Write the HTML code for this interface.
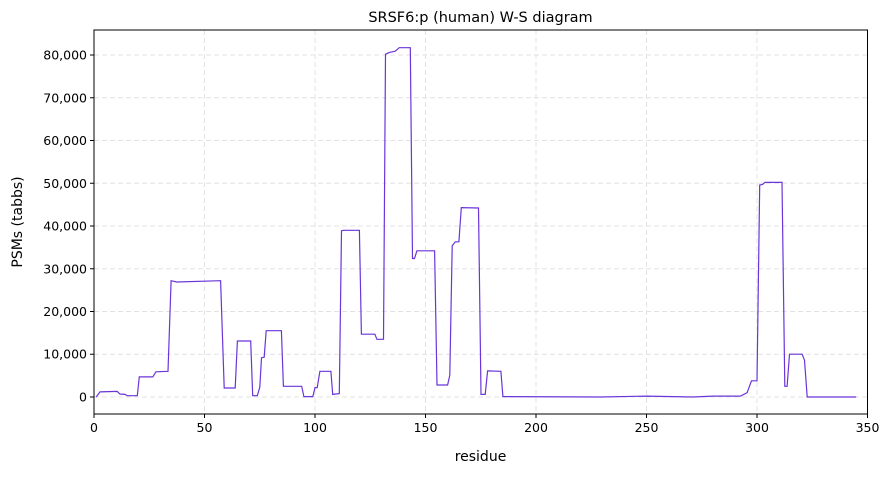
<!DOCTYPE html>
<html><head><meta charset="utf-8">
<style>
body{margin:0;background:#fff;font-family:"Liberation Sans","DejaVu Sans",sans-serif;}
svg text{font-family:"DejaVu Sans","Liberation Sans",sans-serif;fill:#000;}
</style></head>
<body>
<svg id="chart" width="891" height="474" xmlns="http://www.w3.org/2000/svg">
<text x="480.5" y="22" font-size="14.5" text-anchor="middle">SRSF6:p (human) W-S diagram</text>
<g id="grid"></g>
<g id="series"></g>
<rect x="94" y="30" width="773.5" height="384" fill="none" stroke="#000" stroke-width="1"/>
<g id="xticks"></g>
<g id="yticks"></g>
<text x="480.5" y="461" font-size="14" text-anchor="middle">residue</text>
<text transform="translate(22,222) rotate(-90)" font-size="14" text-anchor="middle">PSMs (tabbs)</text>
</svg>
<script>
const residues=[1,2.7,10.5,11.7,14,15,19.6,20.5,26.6,28,33.5,34.9,37.4,57.3,58.9,63.9,64.9,70.9,71.8,73.9,75,75.8,77,77.9,84.8,85.7,94,95,99,100,101,102.2,107.2,108,111,112,113,120.1,121,127.1,128,131,131.9,133.7,136.3,138.1,143.1,144.1,145,146.1,154.1,155.2,160,161,162.1,163.5,165.1,166.2,174,175.1,177,178.1,184.1,185,229,250,271,280,292.5,295.5,297.5,300,301.2,302.5,303.6,311.3,312.6,313.6,314.7,320.4,321.5,322.7,344.9];
const psms=[0,1200,1300,700,600,300,300,4700,4700,5900,6000,27200,26900,27200,2100,2100,13100,13100,300,300,2300,9200,9300,15500,15500,2500,2500,100,100,2200,2200,6000,6000,600,800,38900,39000,39000,14700,14700,13500,13500,80200,80600,80900,81700,81700,32400,32400,34200,34200,2800,2800,5100,35400,36300,36300,44300,44200,600,600,6100,6000,100,0,200,0,200,200,1000,3800,3800,49600,49700,50200,50200,2500,2500,10000,10000,8600,0,0];
const xTicks=[0,50,100,150,200,250,300,350];
const yTicks=[0,10000,20000,30000,40000,50000,60000,70000,80000];
const X0=94,X1=867.5,XMIN=0,XMAX=350;
const Y0=414,Y1=30,YMIN=-3977,YMAX=85850;
function sx(v){return X0+(v-XMIN)/(XMAX-XMIN)*(X1-X0);}
function sy(v){return Y0-(v-YMIN)/(YMAX-YMIN)*(Y0-Y1);}
const NS="http://www.w3.org/2000/svg";
const grid=document.getElementById('grid'),xg=document.getElementById('xticks'),yg=document.getElementById('yticks');
xTicks.forEach(t=>{
  const x=sx(t);
  const gl=document.createElementNS(NS,'line');
  
  
  gl.setAttribute('x1',x);gl.setAttribute('x2',x);gl.setAttribute('y1',Y1);gl.setAttribute('y2',Y0);
  gl.setAttribute('stroke','#e3e3e3');gl.setAttribute('stroke-dasharray','5,3');
  grid.appendChild(gl);
  const tk=document.createElementNS(NS,'line');
  
  
  tk.setAttribute('x1',x);tk.setAttribute('x2',x);tk.setAttribute('y1',Y0);tk.setAttribute('y2',Y0+4);tk.setAttribute('stroke','#000');
  xg.appendChild(tk);
  const tx=document.createElementNS(NS,'text');
  
  
  tx.setAttribute('x',x);tx.setAttribute('y',Y0+18);tx.setAttribute('font-size','12.5');tx.setAttribute('text-anchor','middle');
  tx.textContent=t;xg.appendChild(tx);
});
yTicks.forEach(t=>{
  const y=sy(t);
  const gl=document.createElementNS(NS,'line');
  
  
  gl.setAttribute('x1',X0);gl.setAttribute('x2',X1);gl.setAttribute('y1',y);gl.setAttribute('y2',y);
  gl.setAttribute('stroke','#e3e3e3');gl.setAttribute('stroke-dasharray','5,3');
  grid.appendChild(gl);
  const tk=document.createElementNS(NS,'line');
  
  
  tk.setAttribute('x1',X0-4);tk.setAttribute('x2',X0);tk.setAttribute('y1',y);tk.setAttribute('y2',y);tk.setAttribute('stroke','#000');
  yg.appendChild(tk);
  const tx=document.createElementNS(NS,'text');
  
  
  tx.setAttribute('x',X0-7);tx.setAttribute('y',y+4.5);tx.setAttribute('font-size','12.5');tx.setAttribute('text-anchor','end');
  tx.textContent=t.toLocaleString('en-US');yg.appendChild(tx);
});
const pts=residues.map((r,i)=>sx(r).toFixed(1)+','+sy(psms[i]).toFixed(1)).join(' ');
const pl=document.createElementNS(NS,'polyline');


pl.setAttribute('points',pts);pl.setAttribute('fill','none');pl.setAttribute('stroke','#6a35d9');pl.setAttribute('stroke-width','1.2');
document.getElementById('series').appendChild(pl);
</script>
</body></html>
